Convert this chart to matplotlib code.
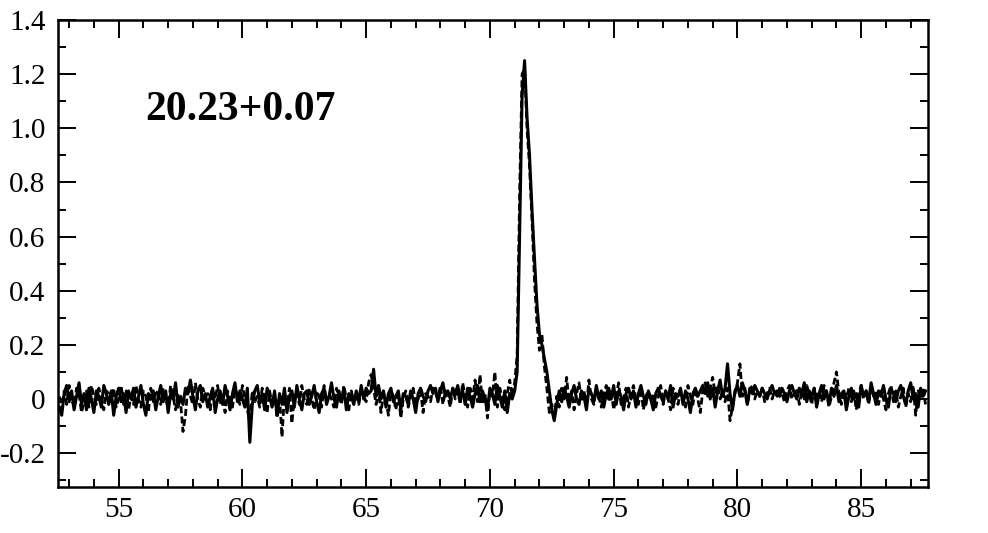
import numpy as np
import matplotlib
matplotlib.use("Agg")
import matplotlib.pyplot as plt
from matplotlib.ticker import MultipleLocator, FixedLocator

# velocity grid start / step (km/s)
v_start = 52.6
v_step = 0.1

# solid line, values in units of 0.01
solid = [
    -3, -6, 2, 5, -1, 3, -4, 1, 6, -2,
    2, -4, 4, 0, -5, 3, 1, -3, 5, 2,
    -2, 3, -6, 1, 4, -1, 2, -5, 3, 0,
    4, -3, 1, 5, -2, -6, 2, 0, 3, -4,
    1, 5, -1, 3, -5, 2, 0, 6, -3, 1,
    -2, 4, 2, 7, 1, -4, 3, 5, -1, 2,
    -3, 1, 4, -5, 0, 3, -2, 5, 1, -4,
    2, 6, -1, 3, 0, -3, 4, -16, -2, 3,
    5, -1, 2, -4, 4, 1, -3, 3, -6, 2,
    -2, 4, -5, 1, 3, -3, 5, 0, -4, 2,
    3, -2, 1, 5, -1, -5, 2, 4, -2, 1,
    6, 0, -3, 3, -1, 4, -4, 2, 1, -2,
    3, -1, 5, 0, 4, 2, 3, 11, 1, 5,
    0, 3, -3, 2, 4, -1, 1, 3, -4, 2,
    1, -2, 3, 0, -5, 2, 4, 1, -1, 3,
    5, 2, 4, -1, 3, 6, 1, 3, 0, 4,
    2, 5, 0, 3, -2, 4, 1, -3, 2, 5,
    -1, 3, 0, -4, 4, 2, -2, 5, 1, -3,
    3, -5, 2, 0, 3, 10, 62, 112, 125, 104,
    90, 70, 52, 35, 24, 20, 15, 10, 3, -4,
    -8, -2, 3, -1, 4, 1, -3, 2, 5, 0,
    -2, 3, 1, -4, 4, 2, -1, 5, 0, 3,
    -3, 2, 4, 0, 5, -2, 3, 1, -4, 2,
    4, 0, 3, -3, 2, 5, 1, -2, 3, 0,
    -4, 2, 4, 1, -1, 3, 0, 5, -3, 2,
    1, 4, -2, 3, 0, -5, 2, 4, 1, 3,
    5, 2, 6, 0, 4, -3, 3, 7, 1, 4,
    13, 2, -4, 3, 5, 1, 6, 3, -2, 4,
    2, 5, 3, 1, 4, 2, 0, 3, 5, 2,
    3, 1, 4, 2, -1, 3, 5, 2, 0, 4,
    2, 6, -1, 3, 1, 4, -3, 2, 5, 0,
    3, -2, 4, 1, 5, -1, 2, 3, -4, 1,
    4, 0, 2, -3, 5, 1, 3, -1, 6, 2,
    -2, 3, 1, 5, 0, -3, 4, 2, -1, 3,
    5, 1, -2, 3, 6, 0, 2, -3, 4, 1,
    3,
]

# dashed line, values in units of 0.01
dashed = [
    1, -4, 3, -2, 5, 0, -3, 4, 2, -5,
    -1, 3, -3, 5, 1, -2, 4, 0, -4, 3,
    2, -1, 4, -3, 0, 5, -2, 3, -4, 1,
    -2, 5, 0, -3, 3, 1, -5, 4, -1, 2,
    3, -2, 4, 0, -3, 5, 1, -4, 2, -1,
    -12, -6, 5, 1, -2, 6, 0, -3, 4, 1,
    2, -4, 3, 0, 5, -2, 1, -5, 3, 0,
    -3, 4, 1, -2, 5, 0, -4, -8, 3, -1,
    1, -3, 4, 0, -5, 3, -2, 2, -7, 1,
    -14, 2, -3, 4, -9, 1, 3, -2, 5, 0,
    -2, 4, 0, -4, 3, 1, -3, 5, -1, 2,
    0, -3, 4, 1, -2, 5, 0, -4, 3, -1,
    2, -2, 3, 1, -1, 6, 9, 4, -2, 3,
    -5, 2, 0, -6, 3, 1, -4, 2, -7, 0,
    3, -3, 1, 4, -2, 0, 3, -5, 2, 1,
    -1, 4, 2, 0, 5, -2, 3, 1, -3, 4,
    0, 3, -2, 6, 1, -3, 4, 0, 7, -1,
    9, -2, 2, -7, 3, 1, 10, -3, 4, 0,
    -4, 2, 7, 1, 6, 16, 76, 120, 122, 100,
    86, 66, 44, 28, 18, 24, 12, 4, -5, -2,
    -6, 1, -3, 4, 0, 8, -2, 3, -4, 2,
    6, -1, 3, -3, 7, 0, -2, 4, 1, -3,
    2, 5, -1, 3, -4, 1, 6, -2, 0, 4,
    -3, 2, 5, 0, -2, 4, -4, 1, 3, -1,
    2, -3, 1, 5, -2, 3, 0, -4, 4, 1,
    -2, 3, 0, -3, 5, 1, -2, 4, 0, -5,
    3, 6, 1, 4, 8, 2, 5, 0, 3, -1,
    4, -8, -3, 2, 6, 13, 1, 4, -2, 3,
    5, 0, 3, 1, 4, -1, 2, 4, 0, 3,
    1, 4, 2, -1, 3, 5, 0, 2, 4, -2,
    3, 0, 5, 2, -2, 4, 1, 3, -1, 5,
    2, -3, 1, 6, 10, 2, -2, 3, 0, 4,
    -1, 3, -4, 2, 5, 0, 3, -2, 4, 1,
    3, -2, 3, 0, -4, 2, 5, -1, 3, -3,
    1, 4, -3, 2, -1, 5, -6, 3, 0, 4,
    -2,
]

x_ticks = [55, 60, 65, 70, 75, 80, 85]
y_ticks = [-0.2, 0, 0.2, 0.4, 0.6, 0.8, 1.0, 1.2, 1.4]
y_ticklabels = ["-0.2", "0", "0.2", "0.4", "0.6", "0.8", "1.0", "1.2", "1.4"]
label_text = "20.23+0.07"

v = v_start + v_step * np.arange(len(solid))
s = np.array(solid) / 100.0
d = np.array(dashed) / 100.0

plt.rcParams["font.family"] = ["Liberation Serif", "DejaVu Serif"]

fig = plt.figure(figsize=(9.88, 5.33), dpi=100)
ax = fig.add_axes([0.0587, 0.0863, 0.8806, 0.8762])

ax.plot(v, d, color="black", lw=2.0, ls=(0, (2.5, 1.2)))
ax.plot(v, s, color="black", lw=2.2)

ax.set_xlim(52.55, 87.7)
ax.set_ylim(-0.325, 1.4)

ax.xaxis.set_major_locator(FixedLocator(x_ticks))
ax.xaxis.set_minor_locator(MultipleLocator(1))
ax.set_yticks(y_ticks)
ax.set_yticklabels(y_ticklabels)
ax.yaxis.set_minor_locator(MultipleLocator(0.1))

ax.tick_params(which="both", direction="in", top=True, right=True, width=1.4)
ax.tick_params(which="major", length=13)
ax.tick_params(which="minor", length=6)
ax.tick_params(axis="x", which="major", pad=7, labelsize=21)
ax.tick_params(axis="y", which="major", pad=9, labelsize=21)

for sp in ax.spines.values():
    sp.set_linewidth(1.8)

ax.text(0.10, 0.807, label_text, transform=ax.transAxes, ha="left", va="center",
        fontsize=30, fontweight="bold")

fig.savefig("out.png", dpi=100)
